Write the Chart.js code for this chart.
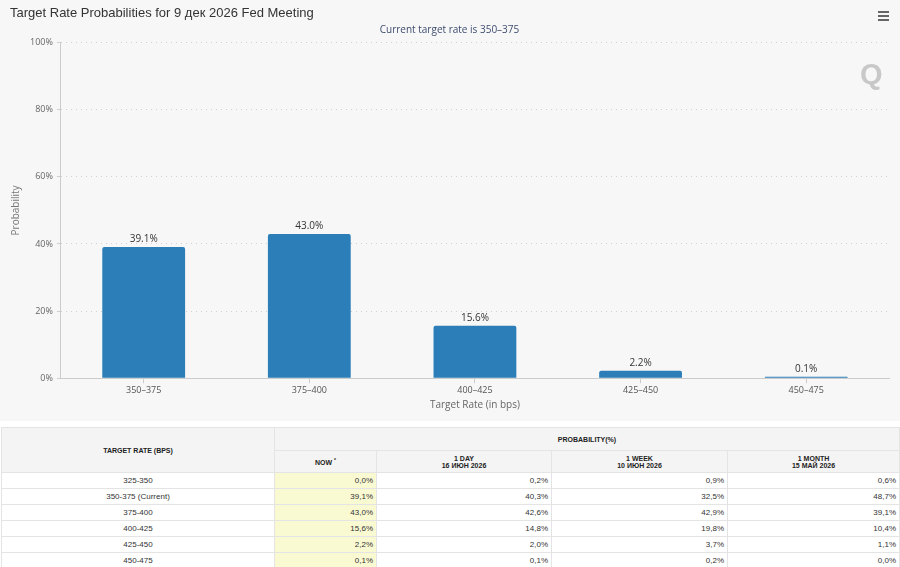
<!DOCTYPE html>
<html>
<head>
<meta charset="utf-8">
<script src="https://cdn.jsdelivr.net/npm/chart.js@4.4.1/dist/chart.umd.min.js"></script>
<style>
  html, body { margin: 0; padding: 0; background: #fff; }
  body { width: 900px; height: 567px; overflow: hidden; position: relative; font-family: "Liberation Sans", Arial, sans-serif; }
  #chartBox { position: absolute; left: 0; top: 0; width: 900px; height: 421px; background: #f7f7f7; }
  #menu { position: absolute; left: 878px; top: 11px; width: 11px; }
  #menu span { display: block; height: 2px; background: #666; margin-bottom: 2px; }
  #logo { position: absolute; left: 860px; top: 58px; font: bold 29px "Liberation Sans", Arial, sans-serif; color: #c8c8c8; }
  table { position: absolute; left: 1px; top: 427px; border-collapse: collapse; table-layout: fixed; width: 898px; font-size: 8px; color: #333; }
  th, td { border: 1px solid #e4e4e4; padding: 0 3px; height: 15px; }
  th { background: #f4f4f4; font-size: 7px; font-weight: bold; text-align: center; color: #222; }
  td { text-align: right; background: #fff; }
  td.rate { text-align: center; }
  td.now { background: #f9f9d2; }
</style>
</head>
<body>
<div id="chartBox"><canvas id="chart" width="900" height="421"></canvas></div>
<div id="menu"><span></span><span></span><span></span></div>
<div id="logo">Q</div>
<table id="probTable">
  <colgroup><col style="width:273px"><col style="width:102px"><col style="width:175px"><col style="width:176px"><col style="width:172px"></colgroup>
  <thead>
    <tr><th rowspan="2" style="height:44px">TARGET RATE (BPS)</th><th colspan="4" style="height:21px">PROBABILITY(%)</th></tr>
    <tr id="subHead" style="height:21px"></tr>
  </thead>
  <tbody id="tbody"></tbody>
</table>
<script>
// Chart data
const categories = ["350–375", "375–400", "400–425", "425–450", "450–475"];
const nowValues = [39.1, 43.0, 15.6, 2.2, 0.1];
const yTicks = [0, 20, 40, 60, 80, 100];

// Table data
const tableHeads = [["NOW", "*"], ["1 DAY", "16 ИЮН 2026"], ["1 WEEK", "10 ИЮН 2026"], ["1 MONTH", "15 МАЙ 2026"]];
const tableRates = ["325-350", "350-375 (Current)", "375-400", "400-425", "425-450", "450-475"];
const colNow = ["0,0%", "39,1%", "43,0%", "15,6%", "2,2%", "0,1%"];
const col1Day = ["0,2%", "40,3%", "42,6%", "14,8%", "2,0%", "0,1%"];
const col1Week = ["0,9%", "32,5%", "42,9%", "19,8%", "3,7%", "0,2%"];
const col1Month = ["0,6%", "48,7%", "39,1%", "10,4%", "1,1%", "0,0%"];

// build table
const sub = document.getElementById("subHead");
tableHeads.forEach(function (h, i) {
  const th = document.createElement("th");
  if (i === 0) th.innerHTML = h[0] + ' <sup style="font-size:5px">' + h[1] + '</sup>';
  else th.innerHTML = h[0] + "<br>" + h[1];
  sub.appendChild(th);
});
const tbody = document.getElementById("tbody");
tableRates.forEach(function (r, i) {
  const tr = document.createElement("tr");
  tr.innerHTML = '<td class="rate">' + r + '</td><td class="now">' + colNow[i] + '</td><td>' +
    col1Day[i] + '</td><td>' + col1Week[i] + '</td><td>' + col1Month[i] + '</td>';
  tbody.appendChild(tr);
});

// value labels above bars
const barLabels = {
  id: "barLabels",
  afterDatasetsDraw(chart) {
    const ctx = chart.ctx;
    const meta = chart.getDatasetMeta(0);
    ctx.save();
    ctx.font = '10px "Open Sans", sans-serif';
    ctx.fillStyle = "#333";
    ctx.textAlign = "center";
    ctx.textBaseline = "bottom";
    meta.data.forEach(function (bar, i) {
      ctx.fillText(nowValues[i].toFixed(1) + "%", bar.x, bar.y - 3);
    });
    ctx.restore();
  }
};

new Chart(document.getElementById("chart"), {
  type: "bar",
  data: {
    labels: categories,
    datasets: [{
      label: "Probability",
      data: nowValues,
      backgroundColor: "#2b7eb8",
      borderRadius: { topLeft: 2, topRight: 2 },
      borderSkipped: "bottom",
      barPercentage: 0.5,
      categoryPercentage: 1.0,
      minBarLength: 1.5
    }]
  },
  options: {
    responsive: false,
    animation: false,
    layout: { padding: { left: 10, right: 11, bottom: 10, top: 0 } },
    plugins: {
      legend: { display: false },
      tooltip: { enabled: false },
      title: {
        display: true,
        text: "Target Rate Probabilities for 9 дек 2026 Fed Meeting",
        align: "start",
        color: "#333",
        font: { family: '"Liberation Sans", Arial, sans-serif', size: 13, weight: "normal" },
        padding: { top: 6, bottom: 3 }
      },
      subtitle: {
        display: true,
        text: "Current target rate is 350–375",
        color: "#3e4c6e",
        font: { family: '"Open Sans", sans-serif', size: 10 },
        padding: { top: 0, bottom: 6 }
      }
    },
    scales: {
      x: {
        grid: { display: true, drawOnChartArea: false, offset: false, color: "#ccc", tickLength: 5 },
        border: { color: "#ccc" },
        ticks: { color: "#555", font: { family: '"Open Sans", sans-serif', size: 9 }, padding: 2 },
        title: { display: true, text: "Target Rate (in bps)", color: "#666", font: { family: '"Open Sans", sans-serif', size: 10 }, padding: { top: 1, bottom: 0 } }
      },
      y: {
        min: 0,
        max: 100,
        afterBuildTicks: function (axis) { axis.ticks = yTicks.map(function (v) { return { value: v }; }); },
        grid: { color: "#d0d0d0", tickLength: 4 },
        border: { color: "#ccc", dash: [1, 4] },
        ticks: { color: "#666", font: { family: '"Open Sans", sans-serif', size: 9 }, padding: 4, callback: function (v) { return v + "%"; } },
        title: { display: true, text: "Probability", color: "#777", font: { family: '"Open Sans", sans-serif', size: 10 }, padding: { top: 0, bottom: 4 } }
      }
    }
  },
  plugins: [barLabels]
});
</script>
</body>
</html>
